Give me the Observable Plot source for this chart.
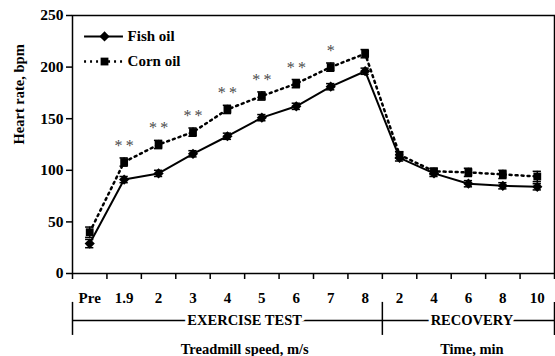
<!DOCTYPE html>
<html>
<head>
<meta charset="utf-8">
<script src="https://cdn.jsdelivr.net/npm/d3@7"></script>
<script src="https://cdn.jsdelivr.net/npm/@observablehq/plot@0.6"></script>
<style>
  html, body { margin: 0; padding: 0; background: #fff; }
  #chart svg { display: block; }
</style>
</head>
<body>
<div id="chart"></div>
<script>
const categories = ["Pre", "1.9", "2", "3", "4", "5", "6", "7", "8", "2", "4", "6", "8", "10"];
const fishOil = [29, 91, 97, 116, 133, 151, 162, 181, 196, 112, 97, 87, 85, 84];
const cornOil = [40, 108, 125, 137, 159, 172, 184, 200, 213, 115, 99, 98, 96, 94];
const fishSE = [4, 3, 3, 3, 3, 3, 3, 3, 3, 3, 3, 3, 3, 3];
const cornSE = [5, 4, 4, 4, 4, 4, 4, 4, 4, 3, 3, 4, 4, 5];
const significance = ["", "**", "**", "**", "**", "**", "**", "*", "", "", "", "", "", ""];
const seriesNames = ["Fish oil", "Corn oil"];
const sectionNames = ["EXERCISE TEST", "RECOVERY"];
const sectionUnits = ["Treadmill speed, m/s", "Time, min"];
const yTicks = [0, 50, 100, 150, 200, 250];

const idx = categories.map((_, i) => i);
const fish = idx.map(i => ({i, v: fishOil[i], se: fishSE[i]}));
const corn = idx.map(i => ({i, v: cornOil[i], se: cornSE[i], sig: significance[i]}));
const boundaries = d3.range(-0.5, categories.length, 1);

const serif = "'Liberation Serif', 'Times New Roman', Times, serif";
const cap = 0.12;
const dotted = "2,4";

const errorMarks = (data) => [
  Plot.ruleX(data, {x: "i", y1: d => d.v - d.se, y2: d => d.v + d.se, stroke: "black", strokeWidth: 1.5}),
  Plot.ruleY(data, {y: d => d.v + d.se, x1: d => d.i - cap, x2: d => d.i + cap, stroke: "black", strokeWidth: 1.5}),
  Plot.ruleY(data, {y: d => d.v - d.se, x1: d => d.i - cap, x2: d => d.i + cap, stroke: "black", strokeWidth: 1.5})
];

const chart = Plot.plot({
  width: 555,
  height: 356,
  marginTop: 15,
  marginLeft: 72,
  marginRight: 1,
  marginBottom: 83,
  x: {type: "linear", domain: [-0.5, 13.5]},
  y: {domain: [0, 250]},
  style: {fontFamily: serif, fontWeight: "bold", color: "black", background: "white", overflow: "visible"},
  marks: [
    Plot.frame({stroke: "black", strokeWidth: 1.5}),
    Plot.axisY({ticks: yTicks, tickSize: 6, tickPadding: 3, fontSize: 15.5, strokeWidth: 1.5, label: null}),
    Plot.axisX({ticks: boundaries, tickSize: 6, tickFormat: () => "", strokeWidth: 1.5, label: null}),
    Plot.axisX({ticks: idx, tickSize: 0, tickPadding: 19, tickFormat: i => categories[i], fontSize: 15, label: null}),

    // lines
    Plot.line(fish, {x: "i", y: "v", stroke: "black", strokeWidth: 2}),
    Plot.line(corn, {x: "i", y: "v", stroke: "black", strokeWidth: 2.5, strokeDasharray: dotted}),
    ...errorMarks(fish),
    ...errorMarks(corn),
    Plot.dot(fish, {x: "i", y: "v", symbol: "diamond2", r: 4.6, fill: "black", stroke: "none"}),
    Plot.dot(corn, {x: "i", y: "v", symbol: "square", r: 4.4, fill: "black", stroke: "none"}),

    // significance
    Plot.text(corn.filter(d => d.sig), {x: "i", y: d => d.v + d.se, text: d => d.sig.split("").join("\u2009"), dy: -12, fontSize: 16, fontWeight: "normal", fill: "#4a4a4a"}),

    // legend
    Plot.ruleY([229.7], {x1: -0.15, x2: 0.98, stroke: "black", strokeWidth: 2}),
    Plot.dot([229.7], {x: 0.43, y: d => d, symbol: "diamond2", r: 4.6, fill: "black"}),
    Plot.ruleY([205.4], {x1: -0.15, x2: 0.98, stroke: "black", strokeWidth: 2.5, strokeDasharray: dotted}),
    Plot.dot([205.4], {x: 0.43, y: d => d, symbol: "square", r: 4.4, fill: "black"}),
    Plot.text([seriesNames[0]], {x: 1.1, y: 229.7, text: d => d, textAnchor: "start", fontSize: 15}),
    Plot.text([seriesNames[1]], {x: 1.1, y: 205.4, text: d => d, textAnchor: "start", fontSize: 15}),

    // y label
    Plot.text(["Heart rate, bpm"], {frameAnchor: "left", rotate: -90, dx: -53, text: d => d, fontSize: 14.5}),

    // section brackets
    Plot.ruleY([-45.5], {x1: -0.5, x2: 13.5, stroke: "black", strokeWidth: 1.5}),
    Plot.ruleX([-0.5, 8.5, 13.5], {x: d => d, y1: -28, y2: -60, stroke: "black", strokeWidth: 1.5}),
    Plot.text([sectionNames[0]], {x: 4.5, y: -45.5, text: d => d, fontSize: 14.5, stroke: "white", strokeWidth: 7, fill: "black"}),
    Plot.text([sectionNames[1]], {x: 11.1, y: -45.5, text: d => d, fontSize: 14.5, stroke: "white", strokeWidth: 7, fill: "black"}),
    Plot.text([sectionUnits[0]], {x: 4.5, y: -73.6, text: d => d, fontSize: 14.5}),
    Plot.text([sectionUnits[1]], {x: 11.1, y: -73.6, text: d => d, fontSize: 14.5})
  ]
});
document.getElementById("chart").appendChild(chart);
</script>
</body>
</html>
